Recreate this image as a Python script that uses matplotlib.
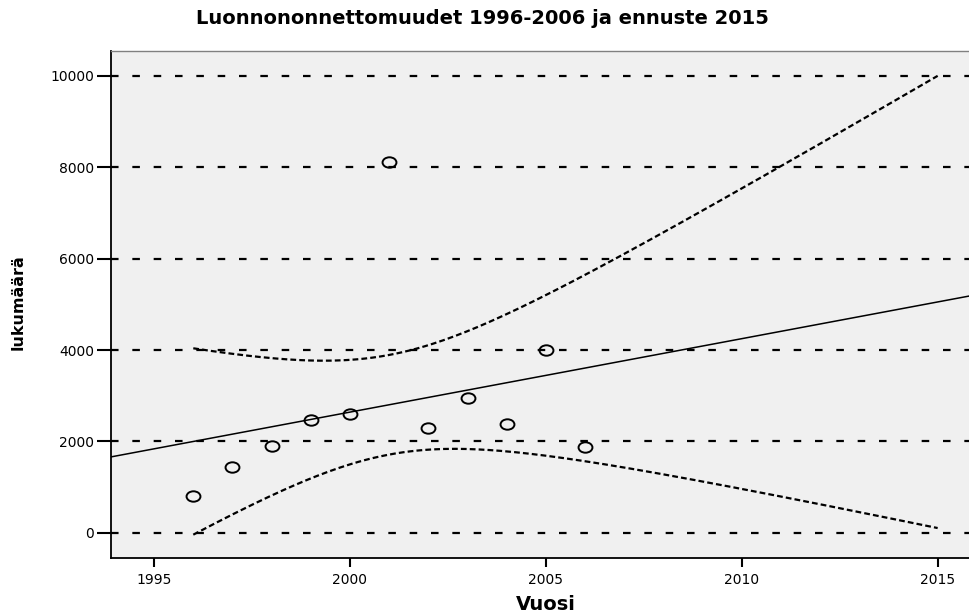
import numpy as np
import matplotlib
matplotlib.use('Agg')
import matplotlib.pyplot as plt
from matplotlib.path import Path
from matplotlib.transforms import Affine2D

years = [1996, 1997, 1998, 1999, 2000, 2001, 2002, 2003, 2004, 2005, 2006]
counts = [807, 1429, 1905, 2462, 2602, 8125, 2286, 2945, 2382, 3993, 1877]

y_ticks = [0, 2000, 4000, 6000, 8000, 10000]
x_ticks = [1995, 2000, 2005, 2010, 2015]

forecast_start = 1996
forecast_end = 2015
t_value = 1.833  # 90 % band, 9 degrees of freedom

title = 'Luonnononnettomuudet 1996-2006 ja ennuste 2015'
x_label = 'Vuosi'
y_label = 'lukumäärä'


def fit_line(xs, ys):
    xs = np.asarray(xs, dtype=float)
    ys = np.asarray(ys, dtype=float)
    slope, intercept = np.polyfit(xs, ys, 1)
    resid = ys - (slope * xs + intercept)
    n = len(xs)
    s = np.sqrt(np.sum(resid ** 2) / (n - 2))
    sxx = np.sum((xs - xs.mean()) ** 2)
    return slope, intercept, s, xs.mean(), sxx, n


def main():
    slope, intercept, s, x_mean, sxx, n = fit_line(years, counts)

    fig = plt.figure(figsize=(9.69, 6.16), dpi=100)
    ax = fig.add_axes([111 / 969, 58 / 616, 1 - 111 / 969, 507 / 616])
    ax.set_facecolor('#f0f0f0')

    ax.set_xlim(1993.9, 2015.8)
    ax.set_ylim(-554, 10547)

    for val in y_ticks:
        ax.axhline(val, color='black', lw=1.6, dashes=(3.4, 6.2), zorder=1)

    line_x = np.array(ax.get_xlim())
    ax.plot(line_x, slope * line_x + intercept, color='black', lw=1.1, zorder=2)

    band_x = np.linspace(forecast_start, forecast_end, 200)
    band_mid = slope * band_x + intercept
    half = t_value * s * np.sqrt(1 / n + (band_x - x_mean) ** 2 / sxx)
    ax.plot(band_x, band_mid + half, color='black', lw=1.6, dashes=(2.6, 1.4), zorder=2)
    ax.plot(band_x, band_mid - half, color='black', lw=1.6, dashes=(2.6, 1.4), zorder=2)

    circle = Path.unit_circle()
    ellipse = circle.transformed(Affine2D().scale(1.0, 0.75))
    ax.plot(years, counts, linestyle='none', marker=ellipse, markersize=10,
            markerfacecolor='none', markeredgecolor='black', markeredgewidth=1.4,
            zorder=3)

    ax.set_xticks(x_ticks)
    ax.set_yticks(y_ticks)
    ax.tick_params(axis='y', length=10, width=1.5, pad=2, labelsize=10)
    ax.tick_params(axis='x', length=6.5, width=1.5, pad=4, labelsize=10)

    for side in ['left', 'bottom']:
        ax.spines[side].set_linewidth(1.3)
        ax.spines[side].set_color('black')
    ax.spines['top'].set_color('#808080')
    ax.spines['top'].set_linewidth(1.0)
    ax.spines['right'].set_visible(False)

    fig.text(482 / 969, 1 - 18 / 616, title, ha='center', va='center',
             fontsize=14, fontweight='bold')
    fig.text(546 / 969, 1 - 604 / 616, x_label, ha='center', va='center',
             fontsize=14, fontweight='bold')
    fig.text(18 / 969, 1 - 302 / 616, y_label, ha='center', va='center',
             rotation=90, fontsize=11.5, fontweight='bold')

    fig.savefig('out.png', dpi=100)


if __name__ == '__main__':
    main()
